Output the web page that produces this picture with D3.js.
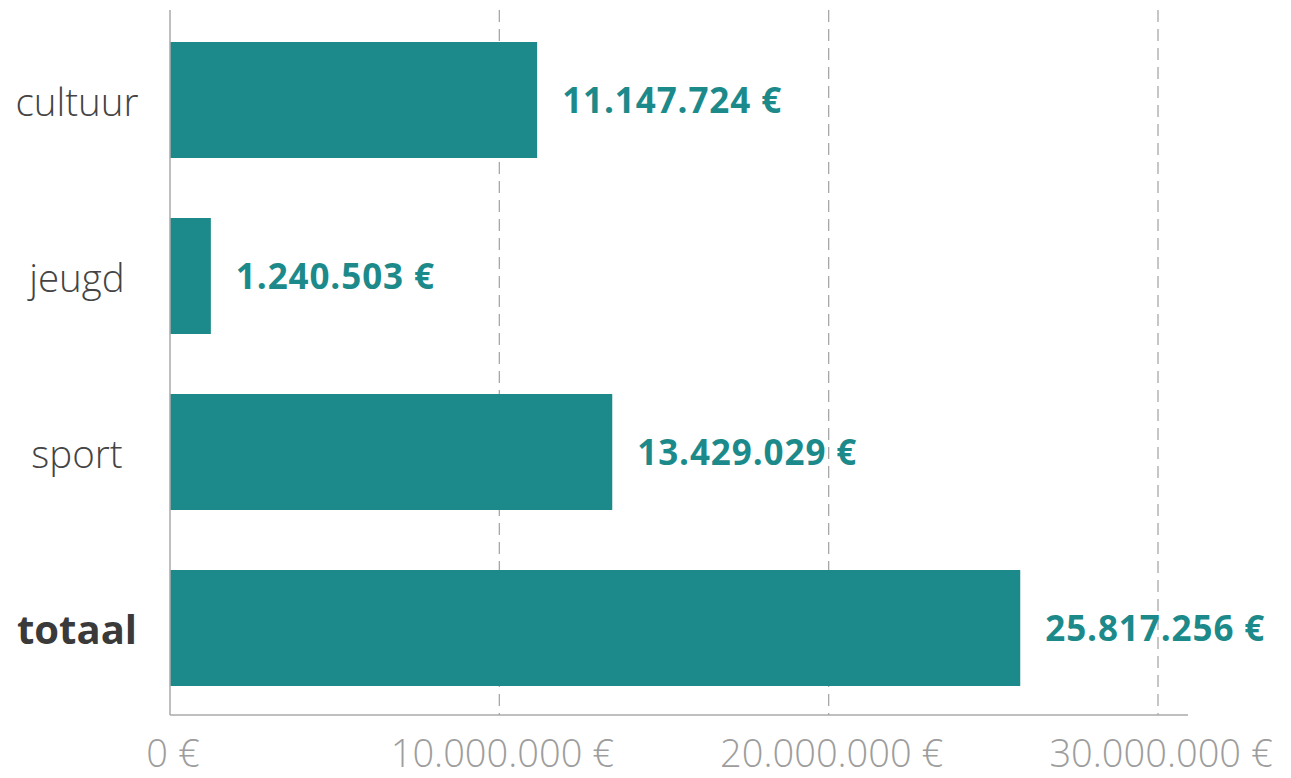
<!DOCTYPE html>
<html><head><meta charset="utf-8">
<script src="https://cdn.jsdelivr.net/npm/d3@7"></script>
<style>body{margin:0;background:#fff}svg{display:block}</style>
</head><body>
<svg id="c" width="1291" height="778"></svg>
<script>
const categories = ["cultuur", "jeugd", "sport", "totaal"];
const values = [11147724, 1240503, 13429029, 25817256];
const ticks = [0, 10000000, 20000000, 30000000];

const nl = d3.formatLocale({decimal: ",", thousands: ".", grouping: [3], currency: ["", " €"]});
const fmt = v => nl.format(",")(v) + " €";

const svg = d3.select("#c");
const x = d3.scaleLinear().domain([0, 30000000]).range([170, 1158]);
const y = d3.scaleBand().domain(categories).range([42, 686]).paddingInner(0.341).paddingOuter(0);
const teal = "#1c8a8a";

// grid lines
svg.append("g").selectAll("line").data(ticks.slice(1)).join("line")
  .attr("x1", d => x(d)).attr("x2", d => x(d)).attr("y1", 10).attr("y2", 715)
  .attr("stroke", "#a8a8a8").attr("stroke-width", 1.3).attr("stroke-dasharray", "12,7");

// bars
svg.append("g").selectAll("rect").data(values).join("rect")
  .attr("x", x(0)).attr("y", (d, i) => y(categories[i]))
  .attr("width", d => x(d) - x(0)).attr("height", y.bandwidth())
  .attr("fill", teal);

// axes lines
svg.append("line").attr("x1", x(0)).attr("x2", x(0)).attr("y1", 10).attr("y2", 715)
  .attr("stroke", "#aaa").attr("stroke-width", 1.5);
svg.append("line").attr("x1", x(0)).attr("x2", 1188).attr("y1", 715).attr("y2", 715)
  .attr("stroke", "#aaa").attr("stroke-width", 1.5);

// tick labels
svg.append("g").selectAll("text").data(ticks).join("text")
  .attr("x", d => x(d) + 3).attr("y", 767).attr("text-anchor", "middle")
  .attr("font-family", "Open Sans").attr("font-weight", 300).attr("font-size", 38)
  .attr("fill", "#9d9d9d").text(d => fmt(d));

// category labels
svg.append("g").selectAll("text").data(categories).join("text")
  .attr("x", 77).attr("y", d => y(d) + y.bandwidth() / 2 + 16).attr("text-anchor", "middle")
  .attr("font-family", "Open Sans").attr("font-weight", d => d === "totaal" ? 700 : 300)
  .attr("font-size", d => d === "totaal" ? 40 : 38.5).attr("fill", d => d === "totaal" ? "#3a3a3a" : "#444")
  .text(d => d);

// value labels
svg.append("g").selectAll("text").data(values).join("text")
  .attr("x", d => x(d) + 25).attr("y", (d, i) => y(categories[i]) + y.bandwidth() / 2 + 13)
  .attr("font-family", "Open Sans").attr("font-weight", 700).attr("font-size", 35)
  .attr("letter-spacing", 0.9)
  .attr("fill", teal).text(d => fmt(d));
</script>
</body></html>
